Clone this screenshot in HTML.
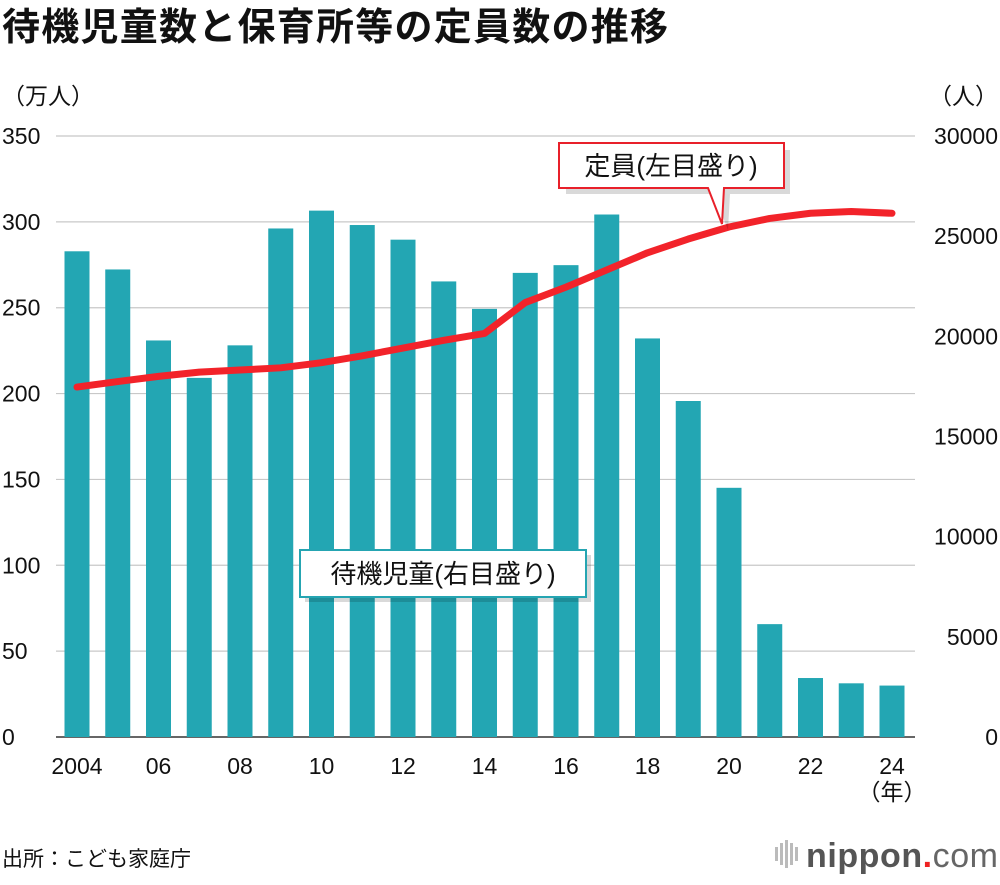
<!DOCTYPE html>
<html><head><meta charset="utf-8">
<style>
body{margin:0;background:#fff;font-family:"Liberation Sans","Noto Sans CJK JP",sans-serif;}
svg text{font-family:"Liberation Sans","Noto Sans CJK JP",sans-serif;}
</style></head>
<body>
<svg id="c" width="1000" height="880" xmlns="http://www.w3.org/2000/svg">
<text x="2" y="40" font-size="38" font-weight="bold" fill="#111" textLength="666">待機児童数と保育所等の定員数の推移</text>
<text x="2" y="104" font-size="23" fill="#111">（万人）</text>
<text x="998" y="104" font-size="23" fill="#111" text-anchor="end">（人）</text>
<g id="grid"></g><g id="bars"></g><g id="line"></g><g id="ticks"></g>
<text x="892" y="800" font-size="23" fill="#111" text-anchor="middle">（年）</text>
<text x="2" y="866" font-size="21" fill="#111">出所：こども家庭庁</text>
<g>
<rect x="775" y="847" width="3" height="14" fill="#bbb"/><rect x="780" y="843" width="3" height="22" fill="#bbb"/><rect x="785" y="840" width="3" height="28" fill="#bbb"/><rect x="790" y="843" width="3" height="22" fill="#bbb"/><rect x="795" y="847" width="3" height="14" fill="#bbb"/>
<text x="806" y="867" font-size="34" font-weight="bold" fill="#555" textLength="192">nippon<tspan fill="#e22">.</tspan><tspan font-weight="normal" fill="#666">com</tspan></text>
</g>
<g>
<path d="M562 146 H786 V190 H726 L724 226 L710 190 H562 Z" fill="#000" opacity="0.15" transform="translate(4,4)"/>
<path d="M559 143 H784 V188 H724 L722 224 L708 188 H559 Z" fill="#fff" stroke="#e8202a" stroke-width="2"/>
<text x="671" y="175" font-size="26" fill="#111" text-anchor="middle">定員(左目盛り)</text>
</g>
<g>
<rect x="305" y="555" width="286" height="47" fill="#000" opacity="0.15"/>
<rect x="300" y="550" width="286" height="47" fill="#fff" stroke="#25a5b2" stroke-width="2"/>
<text x="443" y="583" font-size="26" fill="#111" text-anchor="middle">待機児童(右目盛り)</text>
</g>
</svg>
<script>
const years=[2004,2005,2006,2007,2008,2009,2010,2011,2012,2013,2014,2015,2016,2017,2018,2019,2020,2021,2022,2023,2024];
const waiting=[24245,23338,19794,17926,19550,25384,26275,25556,24825,22741,21371,23167,23553,26081,19895,16772,12439,5634,2944,2680,2567];
const capacity=[203.8,207,210,212.5,213.7,215,218,222,226.5,231,235,253,262,272,282,290,297,302,305,306,305];
const leftTicks=[0,50,100,150,200,250,300,350];
const rightTicks=[0,5000,10000,15000,20000,25000,30000];
const xLabels={2004:"2004",2006:"06",2008:"08",2010:"10",2012:"12",2014:"14",2016:"16",2018:"18",2020:"20",2022:"22",2024:"24"};
const NS="http://www.w3.org/2000/svg";
const x=y=>77+(y-2004)*40.75;
const yL=v=>737-v/350*601;
const yR=v=>737-v/30000*601;
function mk(tag,attrs,parent,txt){const e=document.createElementNS(NS,tag);for(const k in attrs)e.setAttribute(k,attrs[k]);if(txt!==undefined)e.textContent=txt;document.getElementById(parent).appendChild(e);return e;}
leftTicks.forEach(v=>{
  const g=mk('line',{x1:56,x2:915,y1:yL(v),y2:yL(v),stroke:v===0?'#333':'#c8c8c8','stroke-width':v===0?1.5:1.2},'grid');
  
  
  const t=mk('text',{x:2,y:yL(v)+8,'font-size':23,fill:'#111'},'ticks',String(v));
  
  
});
rightTicks.forEach(v=>{
  const t=mk('text',{x:998,y:yR(v)+8,'font-size':23,fill:'#111','text-anchor':'end'},'ticks',String(v));
  
  
});
years.forEach((yr,i)=>{
  const b=mk('rect',{x:x(yr)-12.5,y:yR(waiting[i]),width:25,height:737-yR(waiting[i]),fill:'#23a6b3'},'bars');
  
  
  if(xLabels[yr]){
    const t=mk('text',{x:x(yr),y:774,'font-size':23,fill:'#111','text-anchor':'middle'},'ticks',xLabels[yr]);
    
    
  }
});
const pts=years.map((yr,i)=>x(yr)+','+yL(capacity[i])).join(' ');
const l=mk('polyline',{points:pts,fill:'none',stroke:'#f2232a','stroke-width':7,'stroke-linejoin':'round','stroke-linecap':'round'},'line');


</script>
</body></html>
